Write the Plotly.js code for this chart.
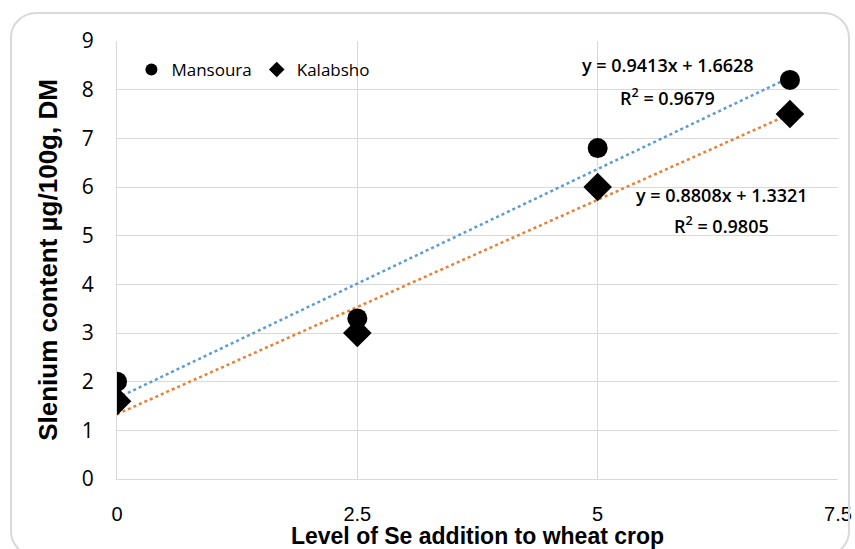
<!DOCTYPE html>
<html><head><meta charset="utf-8">
<script src="https://cdn.plot.ly/plotly-3.0.1.min.js"></script>
<style>
html,body{margin:0;padding:0;background:#fff;}
#wrap{position:relative;width:855px;height:549px;}
#chart{width:855px;height:549px;}
#frame{position:absolute;left:10px;top:12px;width:840px;height:545px;border:2px solid #d9d9d9;border-radius:26px;pointer-events:none;box-sizing:border-box;}
</style></head>
<body>
<div id="wrap"><div id="chart"></div><div id="frame"></div></div>
<script>
const seLevels = [0, 2.5, 5, 7];
const mansoura = [2.0, 3.3, 6.8, 8.2];
const kalabsho = [1.6, 3.0, 6.0, 7.5];
const xTicks = [0, 2.5, 5, 7.5];
const yTicks = [0,1,2,3,4,5,6,7,8,9];

function fit(xs, ys){
  const n = xs.length;
  const mx = xs.reduce((a,b)=>a+b,0)/n, my = ys.reduce((a,b)=>a+b,0)/n;
  let sxy=0, sxx=0, syy=0;
  for(let i=0;i<n;i++){sxy+=(xs[i]-mx)*(ys[i]-my);sxx+=(xs[i]-mx)**2;syy+=(ys[i]-my)**2;}
  const m = sxy/sxx, b = my-m*mx;
  return {m, b, r2: (sxy*sxy)/(sxx*syy)};
}
const fM = fit(seLevels, mansoura), fK = fit(seLevels, kalabsho);
const xr = [seLevels[0], seLevels[seLevels.length-1]];

const traces = [
  {x: xr, y: xr.map(v=>fM.m*v+fM.b), mode:'lines', line:{color:'#5B9BD5', width:2.5, dash:'dot'}, showlegend:false, hoverinfo:'skip'},
  {x: xr, y: xr.map(v=>fK.m*v+fK.b), mode:'lines', line:{color:'#ED7D31', width:2.5, dash:'dot'}, showlegend:false, hoverinfo:'skip'},
  {x: seLevels, y: mansoura, name:'Mansoura', mode:'markers', type:'scatter', marker:{symbol:'circle', size:20, color:'#000'}},
  {x: seLevels, y: kalabsho, name:'Kalabsho', mode:'markers', type:'scatter', marker:{symbol:'diamond', size:22, color:'#000'}}
];

const annFont = {family:'Open Sans, sans-serif', size:18, color:'#000', weight:600};
const layout = {
  width:855, height:549,
  margin:{l:117, r:17, t:41, b:70},
  paper_bgcolor:'rgba(0,0,0,0)', plot_bgcolor:'#fff',
  showlegend:true,
  legend:{orientation:'h', x:0.02, y:0.934, xanchor:'left', yanchor:'middle', bgcolor:'rgba(0,0,0,0)',
    font:{family:'Open Sans, sans-serif', size:17, color:'#000', weight:500}, itemsizing:'constant', itemwidth:20, tracegroupgap:0},
  xaxis:{range:[0,7.5], tickvals:xTicks, ticktext:xTicks.map(String), showgrid:true, gridcolor:'#d9d9d9', gridwidth:1,
    zeroline:false, showline:true, linecolor:'#d9d9d9', linewidth:1, mirror:false,
    ticks:'outside', ticklen:17, tickcolor:'rgba(0,0,0,0)',
    tickfont:{family:'Liberation Sans, Arial, sans-serif', size:20, color:'#000'},
    title:{text:'Level of Se addition to wheat crop', standoff:0, font:{family:'Liberation Sans, Arial, sans-serif', size:23, color:'#000', weight:'bold'}}},
  yaxis:{range:[0,9], tickvals:yTicks, showgrid:true, gridcolor:'#d9d9d9', gridwidth:1,
    zeroline:false, showline:true, linecolor:'#d9d9d9', linewidth:1,
    ticks:'outside', ticklen:18, tickcolor:'rgba(0,0,0,0)',
    tickfont:{family:'Open Sans, sans-serif', size:21, color:'#000', weight:500},
    title:{text:'Slenium content µg/100g, DM', standoff:16, font:{family:'Liberation Sans, Arial, sans-serif', size:26, color:'#000', weight:'bold'}}},
  annotations:[
    {x:5.73, y:8.51, xref:'x', yref:'y', showarrow:false, text:'y = '+fM.m.toFixed(4)+'x + '+fM.b.toFixed(4), font:annFont},
    {x:5.73, y:7.85, xref:'x', yref:'y', showarrow:false, text:'R<sup>2</sup> = '+fM.r2.toFixed(4), font:annFont},
    {x:6.29, y:5.84, xref:'x', yref:'y', showarrow:false, text:'y = '+fK.m.toFixed(4)+'x + '+fK.b.toFixed(4), font:annFont},
    {x:6.29, y:5.22, xref:'x', yref:'y', showarrow:false, text:'R<sup>2</sup> = '+fK.r2.toFixed(4), font:annFont}
  ]
};
Plotly.newPlot('chart', traces, layout, {displayModeBar:false, staticPlot:true});
</script>
</body></html>
